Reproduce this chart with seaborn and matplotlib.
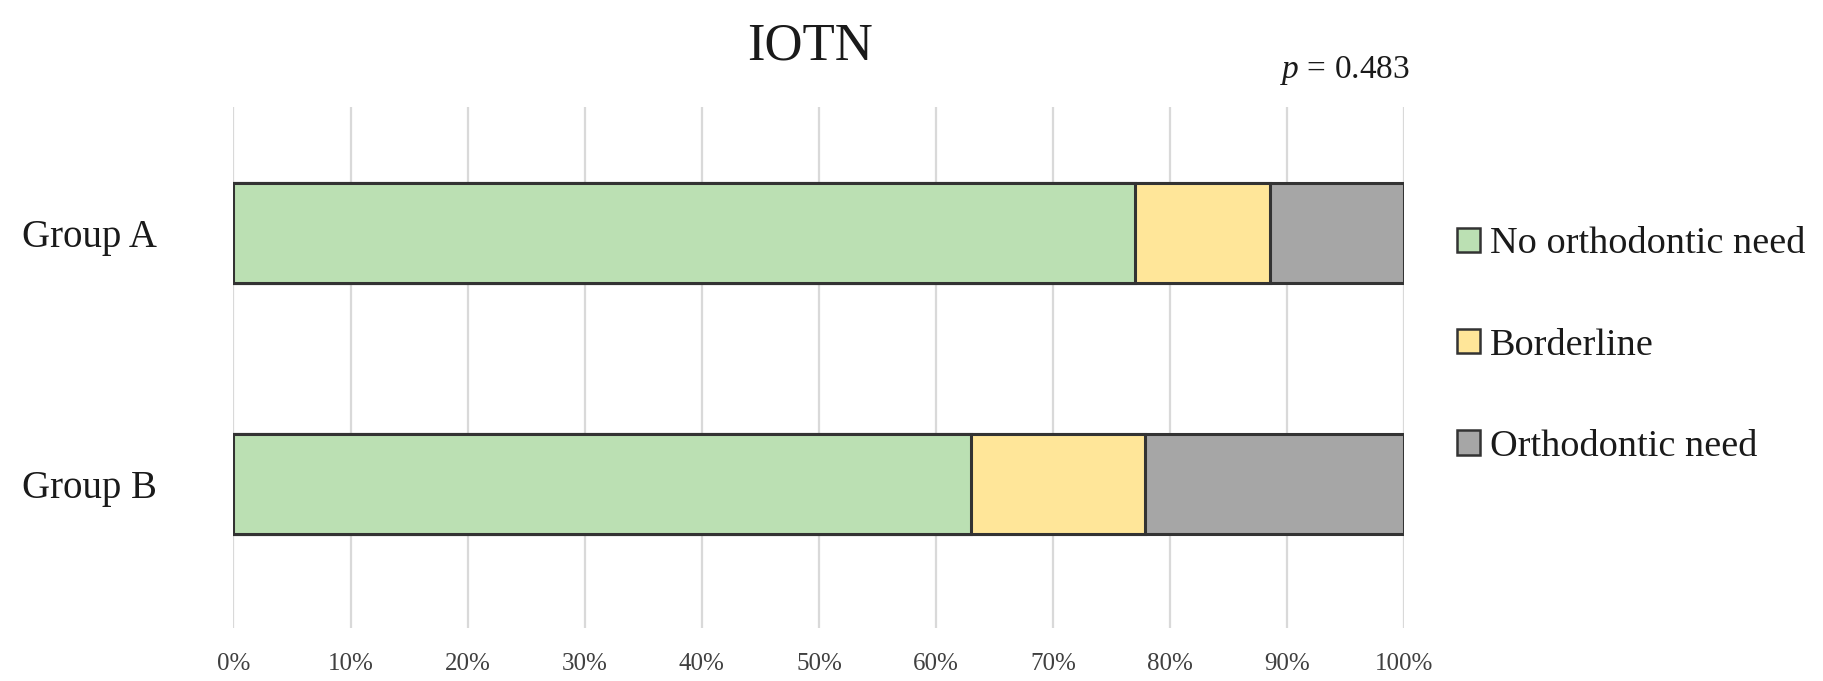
import numpy as np
import pandas as pd
import matplotlib
matplotlib.use("Agg")
import matplotlib.pyplot as plt
import matplotlib.patches as mpatches
import seaborn as sns

# data (percent of each group)
groups = ["Group A", "Group B"]
categories = ["No orthodontic need", "Borderline", "Orthodontic need"]
no_need = [77.0, 63.0]
borderline = [11.5, 14.8]
need = [11.5, 22.2]
colors = ["#bbe0b3", "#ffe699", "#a6a6a6"]
xticks = list(range(0, 101, 10))

sns.set_style("white")
plt.rcParams["font.family"] = ["Liberation Serif", "DejaVu Serif"]
plt.rcParams["mathtext.fontset"] = "custom"
plt.rcParams["mathtext.rm"] = "Liberation Serif"
plt.rcParams["mathtext.it"] = "Liberation Serif:italic"

df = pd.DataFrame({"group": groups, "no_need": no_need,
                   "borderline": borderline, "need": need})
# cumulative widths, drawn from the longest down so the segments stack
df["c1"] = df["no_need"]
df["c2"] = df["no_need"] + df["borderline"]
df["c3"] = df["c2"] + df["need"]

fig = plt.figure(figsize=(18.24, 6.81), dpi=100)
ax = fig.add_axes([0.128, 0.078, 0.642, 0.765])

edge = "#333333"
for col, c in zip(["c3", "c2", "c1"], colors[::-1]):
    sns.barplot(data=df, x=col, y="group", orient="h", color=c, width=0.4,
                edgecolor=edge, linewidth=2.2, saturation=1, ax=ax)

ax.set_xlim(0, 100)
ax.set_ylim(1.574, -0.502)
ax.set_xticks(xticks)
ax.set_xticklabels([f"{v}%" for v in xticks], fontsize=18, color="#404040")
ax.set_yticks([0, 1])
ax.set_yticklabels(groups, fontsize=28, color="#1a1a1a")
ax.tick_params(axis="x", length=0, pad=18)
ax.tick_params(axis="y", length=0, pad=55)
ax.set_xlabel("")
ax.set_ylabel("")
ax.set_axisbelow(True)
ax.xaxis.grid(True, color="#d9d9d9", linewidth=1.6)
ax.yaxis.grid(False)
sns.despine(ax=ax, left=True, bottom=True)

fig.text(0.444, 0.931, "IOTN", ha="center", va="center", fontsize=38, color="#1a1a1a")
fig.text(0.773, 0.897, "$p$ = 0.483", ha="right", va="center", fontsize=24, color="#1a1a1a")

handles = [mpatches.Patch(facecolor=c, edgecolor=edge, linewidth=1.8) for c in colors]
fig.legend(handles, categories, loc="center left", bbox_to_anchor=(0.799, 0.493),
           frameon=False, fontsize=27.5, handlelength=0.6, handleheight=0.6,
           handletextpad=0.25, labelspacing=1.75, borderpad=0, borderaxespad=0,
           labelcolor="#1a1a1a")

fig.savefig("out.png", dpi=100)
